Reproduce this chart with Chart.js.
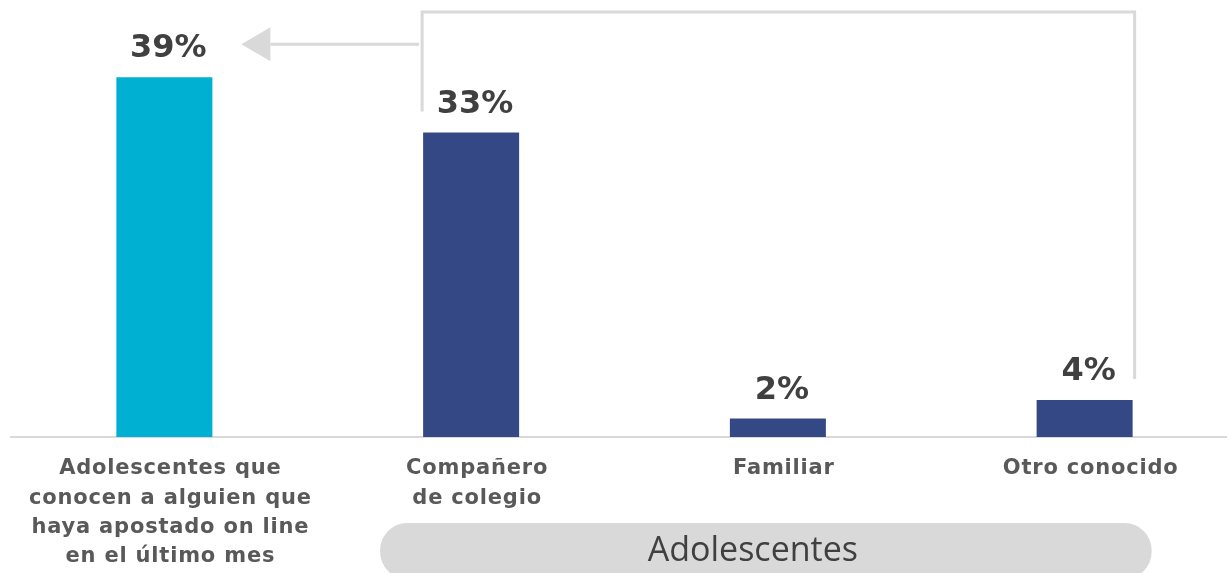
<!DOCTYPE html>
<html>
<head>
<meta charset="utf-8">
<script src="https://cdn.jsdelivr.net/npm/chart.js@4.4.1/dist/chart.umd.min.js"></script>
<style>
  html, body { margin: 0; padding: 0; background: #ffffff; overflow: hidden; }
  #wrap { position: relative; width: 1238px; height: 573px; }
</style>
</head>
<body>
<div id="wrap"><canvas id="c"></canvas></div>
<script>
const categories = [
  ["Adolescentes que", "conocen a alguien que", "haya apostado on line", "en el último mes"],
  ["Compañero", "de colegio"],
  ["Familiar"],
  ["Otro conocido"]
];
const values = [39, 33, 2, 4];
const valueLabels = ["39%", "33%", "2%", "4%"];
const barColors = ["#00B0D2", "#344886", "#344886", "#344886"];
const groupLabel = "Adolescentes";

const decor = {
  id: 'decor',
  beforeDraw(chart) {
    chart.ctx.letterSpacing = '0.8px';
  },
  afterDraw(chart) {
    const ctx = chart.ctx;
    const bars = chart.getDatasetMeta(0).data;
    ctx.save();
    ctx.letterSpacing = '0px';

    // value labels
    ctx.fillStyle = '#404040';
    ctx.font = 'bold 32px "DejaVu Sans"';
    ctx.textAlign = 'center';
    ctx.textBaseline = 'alphabetic';
    bars.forEach((b, i) => {
      ctx.fillText(valueLabels[i], b.x + 4, b.y - 20);
    });

    // bracket
    const b1 = bars[0], b2 = bars[1], b4 = bars[3];
    const leftX = b2.x - b2.width / 2 - 1;
    const rightX = b4.x + b4.width / 2 + 2;
    const topY = 12;
    ctx.strokeStyle = '#d9d9d9';
    ctx.lineWidth = 3;
    ctx.beginPath();
    ctx.moveTo(leftX, b2.y - 21);
    ctx.lineTo(leftX, topY);
    ctx.lineTo(rightX, topY);
    ctx.lineTo(rightX, b4.y - 21);
    ctx.stroke();

    // arrow
    const arrowY = b1.y - 33;
    const tipX = b1.x + b1.width / 2 + 29;
    const baseX = tipX + 29;
    ctx.beginPath();
    ctx.moveTo(leftX - 3, arrowY);
    ctx.lineTo(baseX, arrowY);
    ctx.stroke();
    ctx.fillStyle = '#d9d9d9';
    ctx.beginPath();
    ctx.moveTo(tipX, arrowY);
    ctx.lineTo(baseX, arrowY - 17);
    ctx.lineTo(baseX, arrowY + 17);
    ctx.closePath();
    ctx.fill();

    // group pill
    const pillL = b2.x - 91;
    const pillR = b4.x + 67;
    const pillT = 523;
    const pillH = 56;
    ctx.fillStyle = '#d9d9d9';
    ctx.beginPath();
    ctx.roundRect(pillL, pillT, pillR - pillL, pillH, 27);
    ctx.fill();
    ctx.fillStyle = '#404040';
    ctx.font = '34px "Open Sans"';
    ctx.textAlign = 'center';
    ctx.fillText(groupLabel, bars[2].x - 25, 561);

    ctx.restore();
  }
};

new Chart(document.getElementById('c'), {
  type: 'bar',
  data: {
    labels: categories,
    datasets: [{
      data: values,
      backgroundColor: barColors,
      borderWidth: 0,
      barPercentage: 0.313,
      categoryPercentage: 1.0
    }]
  },
  options: {
    responsive: true,
    maintainAspectRatio: false,
    animation: false,
    layout: { padding: { left: 11, top: 68, right: 0, bottom: 0 } },
    plugins: { legend: { display: false }, tooltip: { enabled: false } },
    scales: {
      y: { display: false, min: 0, max: 40 },
      x: {
        grid: { display: false, drawTicks: false },
        border: { display: true, color: '#d9d9d9', width: 2 },
        ticks: {
          color: '#595959',
          font: { family: '"DejaVu Sans"', size: 21, weight: 'bold', lineHeight: 1.4 },
          padding: 17,
          labelOffset: 6,
          maxRotation: 0,
          autoSkip: false
        },
        afterFit(scale) { scale.height = 136; }
      }
    }
  },
  plugins: [decor]
});
</script>
</body>
</html>
